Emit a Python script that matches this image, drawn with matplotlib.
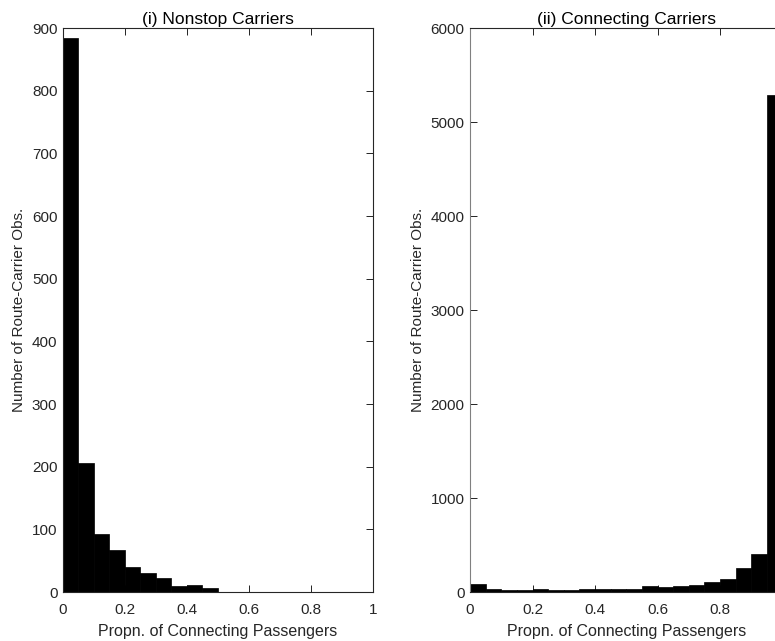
import numpy as np
import matplotlib
matplotlib.use("Agg")
import matplotlib.pyplot as plt

plt.rcParams['font.family'] = ['Liberation Sans', 'DejaVu Sans']

# --- Histogram data (20 bins of width 0.05) ---
bin_left = [0.00, 0.05, 0.10, 0.15, 0.20, 0.25, 0.30, 0.35, 0.40, 0.45,
            0.50, 0.55, 0.60, 0.65, 0.70, 0.75, 0.80, 0.85, 0.90, 0.95]
bin_width = 0.05

nonstop_counts = [884, 206, 92, 67, 40, 30, 23, 9, 11, 7,
                  0, 0, 0, 0, 0, 0, 0, 0, 0, 0]
connecting_counts = [82, 29, 20, 25, 36, 25, 20, 29, 33, 30,
                     30, 68, 53, 64, 79, 110, 142, 260, 405, 5290]

x_ticks = [0, 0.2, 0.4, 0.6, 0.8, 1]
x_ticklabels = ["0", "0.2", "0.4", "0.6", "0.8", "1"]

fig = plt.figure(figsize=(7.75, 6.41), dpi=100)

ax1 = fig.add_axes([0.0813, 0.0764, 0.3997, 0.8798])
ax2 = fig.add_axes([0.6065, 0.0764, 0.4032, 0.8798])


def style_axes(ax, ylim, yticks, n_xlabels):
    ax.set_xlim(0, 1)
    ax.set_ylim(*ylim)
    ax.set_xticks(x_ticks[:n_xlabels])
    ax.set_xticklabels(x_ticklabels[:n_xlabels])
    ax.set_yticks(yticks)
    ax.tick_params(direction='in', length=5, width=0.6, top=True, right=True,
                   labelsize=11, colors='black', labelcolor='#262626', pad=4)
    ax.tick_params(axis='x', pad=8)
    for s in ax.spines.values():
        s.set_linewidth(0.8)
        s.set_color('#262626')
    ax.set_xlabel("Propn. of Connecting Passengers", fontsize=11.5,
                  color='#262626', labelpad=5)
    ax.set_ylabel("Number of Route-Carrier Obs.", fontsize=11, color='#262626')


# (i) Nonstop
ax1.bar(bin_left, nonstop_counts, width=bin_width, align='edge',
        color='black', edgecolor='black', linewidth=0.5)
style_axes(ax1, (0, 900), range(0, 901, 100), 6)
ax1.set_title("(i) Nonstop Carriers", fontsize=12.5, pad=3)

# (ii) Connecting
ax2.bar(bin_left, connecting_counts, width=bin_width, align='edge',
        color='black', edgecolor='black', linewidth=0.5)
style_axes(ax2, (0, 6000), range(0, 6001, 1000), 5)
ax2.spines['left'].set_color('#808080')
ax2.set_title("(ii) Connecting Carriers", fontsize=12.5, pad=3)

fig.savefig("out.png", dpi=100)
